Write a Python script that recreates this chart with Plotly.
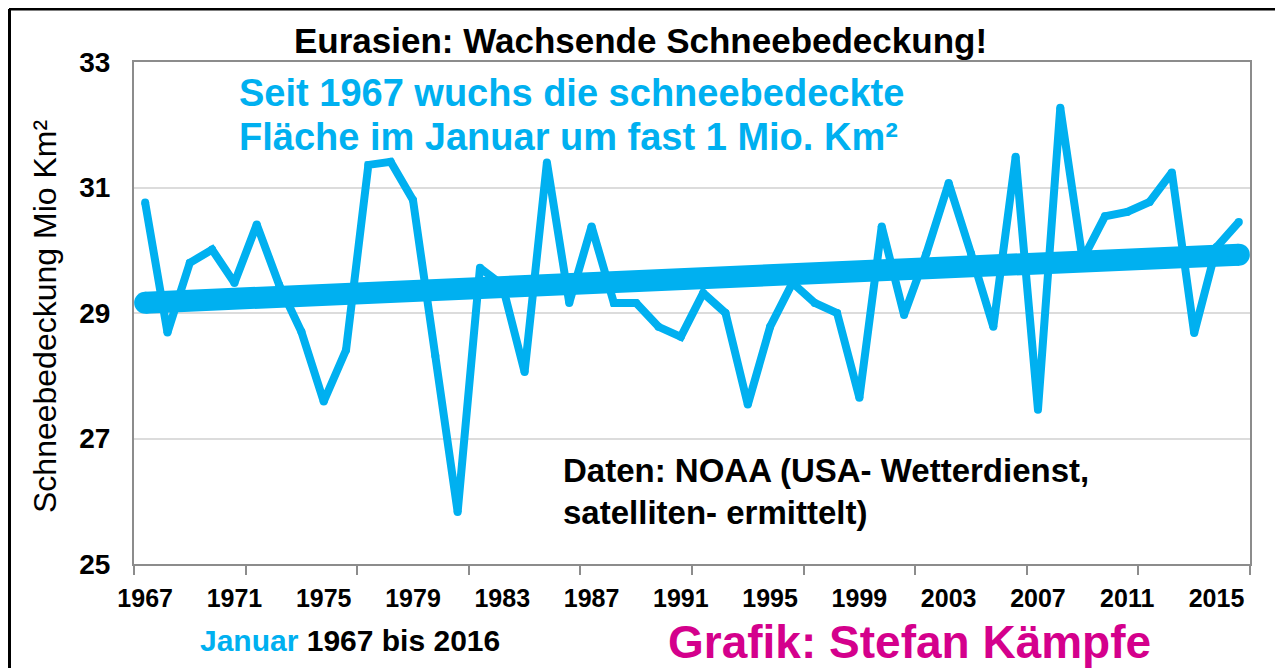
import numpy as np
import plotly.graph_objects as go

# Januar-Schneebedeckung Eurasien (Mio km²)
years = list(range(1967, 2017))
snow_cover = [
    30.76, 28.69, 29.80, 30.01, 29.48, 30.41, 29.45, 28.70, 27.59, 28.41,
    31.36, 31.41, 30.80, 28.32, 25.83, 29.72, 29.45, 28.06, 31.40, 29.16,
    30.38, 29.16, 29.16, 28.78, 28.62, 29.32, 29.00, 27.54, 28.78, 29.48,
    29.16, 29.00, 27.65, 30.38, 28.97, 29.95, 31.07, 29.95, 28.78, 31.49,
    27.46, 32.27, 29.85, 30.54, 30.61, 30.77, 31.24, 28.68, 30.05, 30.45,
]
tick_years = [1967, 1971, 1975, 1979, 1983, 1987, 1991, 1995, 1999, 2003, 2007, 2011, 2015]
y_ticks = [25, 27, 29, 31, 33]

BLUE = "#00B0F0"
MAGENTA = "#D4008C"
FONT = "Liberation Sans, Arial, sans-serif"

# linearer Trend
slope, intercept = np.polyfit(years, snow_cover, 1)
trend_x = [years[0], years[-1]]
trend_y = [slope * x + intercept for x in trend_x]

fig = go.Figure()

fig.add_trace(go.Scatter(
    x=years, y=snow_cover, mode="lines+markers",
    line=dict(color=BLUE, width=8),
    marker=dict(color=BLUE, size=8),
    cliponaxis=False, showlegend=False,
))
fig.add_trace(go.Scatter(
    x=trend_x, y=trend_y, mode="lines+markers",
    line=dict(color=BLUE, width=22),
    marker=dict(color=BLUE, size=22),
    cliponaxis=False, showlegend=False,
))

# Seitenpixel -> Papierkoordinaten (Plotbereich 134..1250 x 62..564)
def px(x):
    return (x - 134) / 1116

def py(y):
    return (564 - y) / 502

annotations = [
    dict(x=px(640), y=py(40), text="Eurasien: Wachsende Schneebedeckung!",
         font=dict(family=FONT, size=35, color="black", weight="bold"),
         xanchor="center", yanchor="middle"),
    dict(x=px(237), y=py(93), text="Seit 1967 wuchs die schneebedeckte",
         font=dict(family=FONT, size=38, color=BLUE, weight="bold"),
         xanchor="left", yanchor="middle"),
    dict(x=px(237), y=py(137), text="Fläche im Januar um fast 1 Mio. Km²",
         font=dict(family=FONT, size=38, color=BLUE, weight="bold"),
         xanchor="left", yanchor="middle"),
    dict(x=px(561), y=py(470), text="Daten: NOAA (USA- Wetterdienst,",
         font=dict(family=FONT, size=33, color="black", weight="bold"),
         xanchor="left", yanchor="middle"),
    dict(x=px(561), y=py(512), text="satelliten- ermittelt)",
         font=dict(family=FONT, size=33, color="black", weight="bold"),
         xanchor="left", yanchor="middle"),
    dict(x=px(198), y=py(640),
         text=f"<span style='color:{BLUE}'>Januar</span> 1967 bis 2016",
         font=dict(family=FONT, size=30, color="black", weight="bold"),
         xanchor="left", yanchor="middle"),
    dict(x=px(666), y=py(642), text="Grafik: Stefan Kämpfe",
         font=dict(family=FONT, size=46, color=MAGENTA, weight="bold"),
         xanchor="left", yanchor="middle"),
    dict(x=px(45), y=py(317), text="Schneebedeckung Mio Km²", textangle=-90,
         font=dict(family=FONT, size=32, color="black"),
         xanchor="center", yanchor="middle"),
]
for a in annotations:
    a.update(xref="paper", yref="paper", showarrow=False)

# die Seite wird mit 8 px Rand gezeigt, daher 8 px kleiner
fig.update_layout(
    width=1275, height=660,
    margin=dict(l=126, r=33, t=54, b=104),
    paper_bgcolor="white", plot_bgcolor="white",
    annotations=annotations,
    shapes=[
        dict(type="line", xref="paper", yref="paper", x0=px(9), x1=px(1300),
             y0=py(9), y1=py(9), line=dict(color="black", width=3)),
        dict(type="line", xref="paper", yref="paper", x0=px(9.5), x1=px(9.5),
             y0=py(9), y1=py(690), line=dict(color="black", width=3)),
    ],
)

fig.update_xaxes(
    range=[1966.5, 2016.5],
    tickmode="array", tickvals=tick_years, ticktext=[str(t) for t in tick_years],
    ticks="", ticklabelstandoff=11,
    tickfont=dict(family=FONT, size=25, color="black", weight="bold"),
    showgrid=False, zeroline=False,
    showline=True, mirror=True, linecolor="#8C8C8C", linewidth=2,
    minor=dict(tickmode="linear", tick0=1966.5, dtick=5, ticks="outside",
               ticklen=9, tickwidth=2, tickcolor="#8C8C8C", showgrid=False),
)
fig.update_yaxes(
    range=[25, 33], tickmode="array", tickvals=y_ticks,
    ticks="", ticklabelstandoff=16,
    tickfont=dict(family=FONT, size=28, color="black", weight="bold"),
    showgrid=True, gridcolor="#DCDCDC", gridwidth=1.5, zeroline=False,
    showline=True, mirror=True, linecolor="#8C8C8C", linewidth=2,
)

fig.write_html("out.html")
